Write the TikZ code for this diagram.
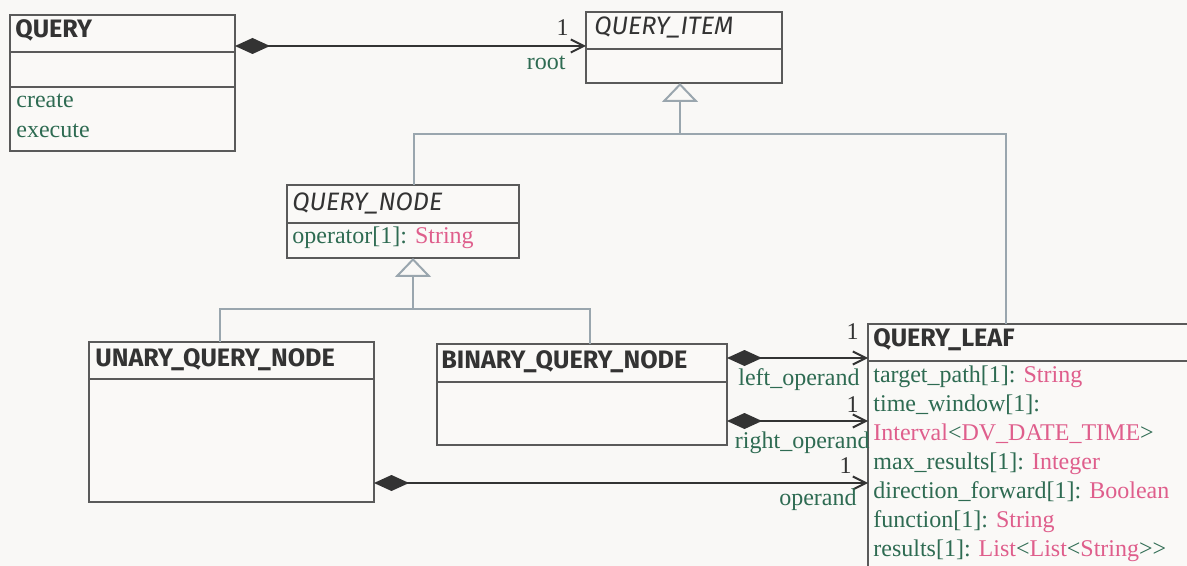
\documentclass[tikz,border=0pt]{standalone}
\usepackage{fontspec}
\setmainfont{Liberation Serif}
\setsansfont{Fira Sans}
\usetikzlibrary{arrows.meta, positioning, calc}
\definecolor{paper}{HTML}{F9F8F6}
\definecolor{boxfill}{HTML}{FAF9F7}
\definecolor{boxgrey}{HTML}{5A5A5A}
\definecolor{namegrey}{HTML}{333333}
\definecolor{linedark}{HTML}{333333}
\definecolor{attrgreen}{HTML}{2E6B52}
\definecolor{typepink}{HTML}{DF5E8C}
\definecolor{gengrey}{HTML}{9AA6AE}

\begin{document}
\begin{tikzpicture}[
    x=0.5pt, y=-0.5pt,
    classbox/.style={draw=boxgrey, fill=boxfill, line width=0.55pt, anchor=north west, inner sep=0pt, outer sep=0pt},
    classname/.style={anchor=base west, inner sep=0pt, text=namegrey, font=\sffamily\bfseries\fontsize{12.6}{15}\selectfont},
    absname/.style={classname, font=\sffamily\itshape\fontsize{12.6}{15}\selectfont},
    attr/.style={anchor=base west, inner sep=0pt, text=attrgreen, font=\fontsize{12}{14.5}\selectfont},
    mult/.style={anchor=base east, inner sep=0pt, text=namegrey, font=\fontsize{12}{14.5}\selectfont},
    role/.style={anchor=base east, inner sep=0pt, text=attrgreen, font=\fontsize{12}{14.5}\selectfont},
    divider/.style={draw=boxgrey, line width=0.55pt},
    compose/.style={{Diamond[length=17.5pt, width=8pt]}-{Straight Barb[length=6.5pt, width=6.5pt]}, line width=1pt, draw=linedark},
    inherit/.style={-{Triangle[length=9.5pt, width=18pt, fill=paper]}, draw=gengrey, line width=1pt},
    genline/.style={draw=gengrey, line width=1pt},
]
    % canvas
    \fill[paper] (0,0) rectangle (1187,566);
    \useasboundingbox (0,0) rectangle (1187,566);
    \clip (0,0) rectangle (1187,566);

    % QUERY class
    \node[classbox, minimum width=112.5pt, minimum height=68pt] (query) at (10,15) {};
    \draw[divider] (query.west |- 0,52) -- (query.east |- 0,52);
    \draw[divider] (query.west |- 0,87) -- (query.east |- 0,87);
    \node[classname] (querytitle) at (15,38) {QUERY};
    \node[attr] (create) at (16,108) {create};
    \node[attr] (execute) at (16,138) {execute};

    % QUERY_ITEM class
    \node[classbox, minimum width=98pt, minimum height=35.5pt] (queryitem) at (586,12) {};
    \draw[divider] (queryitem.west |- 0,49) -- (queryitem.east |- 0,49);
    \node[absname] (itemtitle) at (594,35) {QUERY\_ITEM};

    % QUERY_NODE class
    \node[classbox, minimum width=116pt, minimum height=36.5pt] (querynode) at (287,185) {};
    \draw[divider] (querynode.west |- 0,223) -- (querynode.east |- 0,223);
    \node[absname] (nodetitle) at (292,211) {QUERY\_NODE};
    \node[attr] (operator) at (292,244) {operator[1]: \textcolor{typepink}{String}};

    % UNARY_QUERY_NODE class
    \node[classbox, minimum width=142.5pt, minimum height=80pt] (unary) at (89,342) {};
    \draw[divider] (unary.west |- 0,379) -- (unary.east |- 0,379);
    \node[classname] (unarytitle) at (95,366) {UNARY\_QUERY\_NODE};

    % BINARY_QUERY_NODE class
    \node[classbox, minimum width=145pt, minimum height=50.5pt] (binary) at (437,344) {};
    \draw[divider] (binary.west |- 0,382) -- (binary.east |- 0,382);
    \node[classname] (binarytitle) at (441,368) {BINARY\_QUERY\_NODE};

    % QUERY_LEAF class
    \node[classbox, minimum width=170pt, minimum height=130pt] (queryleaf) at (868,324) {};
    \draw[divider] (queryleaf.west |- 0,361) -- (queryleaf.east |- 0,361);
    \node[classname] (leaftitle) at (873,347) {QUERY\_LEAF};
    \node[attr] (targetpath) at (873,382) {target\_path[1]: \textcolor{typepink}{String}};
    \node[attr] (timewindow) at (873,411) {time\_window[1]:};
    \node[attr] (interval) at (873,440) {\textcolor{typepink}{Interval}<\textcolor{typepink}{DV\_DATE\_TIME}>};
    \node[attr] (maxresults) at (873,469) {max\_results[1]: \textcolor{typepink}{Integer}};
    \node[attr] (direction) at (873,498) {direction\_forward[1]: \textcolor{typepink}{Boolean}};
    \node[attr] (function) at (873,527) {function[1]: \textcolor{typepink}{String}};
    \node[attr] (results) at (873,556) {results[1]: \textcolor{typepink}{List}<\textcolor{typepink}{List}<\textcolor{typepink}{String}>{}>};

    % Generalisations
    \coordinate (itemhub) at (680,134);
    \draw[inherit] (itemhub) -- (itemhub |- queryitem.south);
    \draw[genline] (414,0 |- querynode.north) |- (itemhub) -| (1006,0 |- queryleaf.north);
    \coordinate (nodehub) at (413,309);
    \draw[inherit] (nodehub) -- (nodehub |- querynode.south);
    \draw[genline] (220,0 |- unary.north) |- (nodehub) -| (590,0 |- binary.north);

    % Compositions
    \draw[compose] (query.east |- 0,46) -- (queryitem.west |- 0,46);
    \node[mult] (rootmult) at (569,36) {1};
    \node[role] (rootrole) at (566,70) {root};

    \draw[compose] (binary.east |- 0,358) -- (queryleaf.west |- 0,358);
    \node[mult] (leftmult) at (859,339) {1};
    \node[role] (leftrole) at (860,385) {left\_operand};

    \draw[compose] (binary.east |- 0,421) -- (queryleaf.west |- 0,421);
    \node[mult] (rightmult) at (859,412) {1};
    \node[role] (rightrole) at (870,448) {right\_operand};

    \draw[compose] (unary.east |- 0,483) -- (queryleaf.west |- 0,483);
    \node[mult] (operandmult) at (852,473) {1};
    \node[role] (operandrole) at (857,505) {operand};

\end{tikzpicture}
\end{document}
